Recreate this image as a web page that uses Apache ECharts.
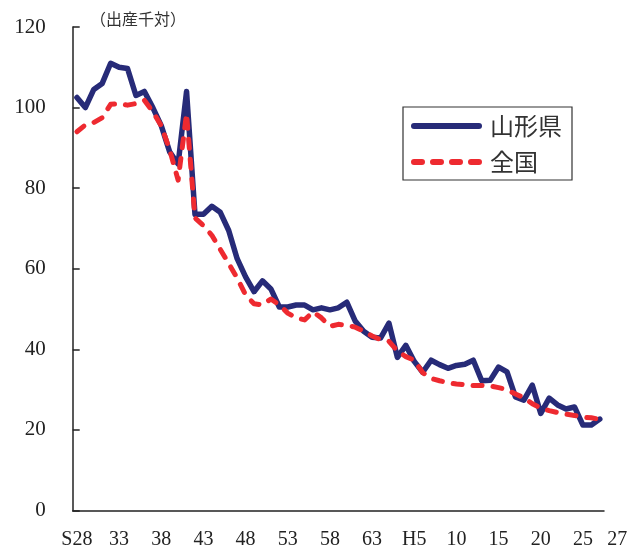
<!DOCTYPE html>
<html>
<head>
<meta charset="utf-8">
<script src="https://cdn.jsdelivr.net/npm/echarts@6/dist/echarts.min.js"></script>
<style>
html,body{margin:0;padding:0;background:#fff;}
#chart{width:643px;height:551px;}
</style>
</head>
<body>
<div id="chart"></div>
<script>
// Categories: S28 (1953) .. S63 (1988), H1 (1989) .. H27 (2015)
const showa = [];
for (let y = 28; y <= 63; y++) showa.push('S' + y);
const heisei = [];
for (let y = 1; y <= 27; y++) heisei.push('H' + y);
const categories = showa.concat(heisei);

// Indices that carry a tick label, and their text
const labelIndex = [0, 5, 10, 15, 20, 25, 30, 35, 40, 45, 50, 55, 60, 62];
const labelText  = ['S28','33','38','43','48','53','58','63','H5','10','15','20','25','27'];

const seriesNames = ['山形県', '全国'];

// 山形県 (Yamagata)
const yamagata = [
  102.5, 100, 104.5, 106, 111, 110, 109.7, 103, 104, 100,
  95.5, 89, 86, 104, 73.5, 73.5, 75.5, 74, 69.5, 62.5,
  58, 54.3, 57, 55, 50.5, 50.5, 51, 51, 49.8, 50.3,
  49.8, 50.3, 51.7, 47, 44.5, 43, 42.8, 46.5, 38, 41,
  37, 34.3, 37.3, 36.2, 35.3, 36, 36.3, 37.3, 32.2, 32.3,
  35.6, 34.4, 28.2, 27.4, 31.1, 24.1, 27.9, 26.2, 25.2, 25.7,
  21.2, 21.2, 22.7
];

// 全国 (national)
const zenkoku = [
  94, 95.7, 96.3, 97.5, 100.8, 101, 100.6, 101, 101.8, 99,
  95.5, 89.5, 82, 98.5, 72.6, 70.7, 68.3, 64.8, 61.3, 57.7,
  53.5, 51.3, 51, 52.5, 51, 49, 47.8, 47.3, 49.3, 47.8,
  45.7, 46.2, 46, 45.5, 44.5, 43.3, 42.4, 42, 39.6, 38.2,
  37.3, 34.2, 32.8, 32.2, 31.7, 31.4, 31.2, 31, 31, 30.9,
  30.5, 30, 28.9, 28, 26.5, 25.4, 24.8, 24.3, 23.9, 23.6,
  23.2, 23, 22.6
];

const yTicks = { min: 0, max: 120, interval: 20 };
const unitLabel = '（出産千対）';

const chart = echarts.init(document.getElementById('chart'), null, {renderer: 'canvas'});
const numFont = '"Liberation Serif", "DejaVu Serif", serif';
const cjkFont = '"Noto Sans CJK JP", "Noto Sans CJK SC", sans-serif';

// legend icons: solid rounded bar, and four rounded dashes
function cap(x0, x1) {
  return 'M' + (x0 + 3) + ',0 L' + (x1 - 3) + ',0 A3,3 0 0 1 ' + (x1 - 3) + ',6 L' + (x0 + 3) + ',6 A3,3 0 0 1 ' + (x0 + 3) + ',0 Z ';
}
const solidIcon = 'path://' + cap(0, 71);
const dashIcon = 'path://' + cap(0, 14) + cap(19, 33) + cap(38, 52) + cap(57, 71);

chart.setOption({
  animation: false,
  backgroundColor: '#ffffff',
  title: {
    text: unitLabel,
    left: 85, top: 6,
    textStyle: { fontFamily: cjkFont, fontSize: 16, fontWeight: 'normal', color: '#333' }
  },
  legend: {
    orient: 'vertical',
    left: 403, top: 107,
    padding: [5, 10, 4, 8],
    itemGap: 8,
    itemWidth: 71, itemHeight: 6,
    borderColor: '#333', borderWidth: 1.2,
    backgroundColor: '#fff',
    itemStyle: { borderWidth: 0 },
    textStyle: { fontFamily: cjkFont, fontSize: 24, color: '#333', lineHeight: 28, padding: [0, 0, 0, 3] },
    data: [
      { name: seriesNames[0], icon: solidIcon },
      { name: seriesNames[1], icon: dashIcon }
    ]
  },
  grid: { left: 72.7, right: 39, top: 27, bottom: 40.5, containLabel: false },
  xAxis: {
    type: 'category',
    data: categories,
    boundaryGap: true,
    axisLine: { lineStyle: { color: '#222', width: 1.5 } },
    axisTick: {
      inside: true, length: 7, alignWithLabel: false,
      interval: function (i) { return i % 5 === 0; },
      lineStyle: { color: '#222', width: 1.5 }
    },
    axisLabel: {
      interval: function (i) { return labelIndex.indexOf(i) >= 0; },
      margin: 19,
      fontFamily: numFont, fontSize: 20, color: '#222',
      formatter: function (v, i) {
        const k = labelIndex.indexOf(i);
        if (k < 0) return '';
        if (i === 62) return '{last|' + labelText[k] + '}';
        return labelText[k];
      },
      rich: { last: { fontFamily: numFont, fontSize: 20, color: '#222', padding: [0, 0, 0, 35] } }
    },
    splitLine: { show: false }
  },
  yAxis: {
    type: 'value',
    min: yTicks.min, max: yTicks.max, interval: yTicks.interval,
    axisLine: { show: true, lineStyle: { color: '#222', width: 1.5 } },
    axisTick: { show: true, inside: true, length: 7, lineStyle: { color: '#222', width: 1.5 } },
    axisLabel: { margin: 27, fontFamily: numFont, fontSize: 21, color: '#222' },
    splitLine: { show: false }
  },
  series: [
    {
      name: seriesNames[0], type: 'line', data: yamagata,
      symbol: 'none', z: 2,
      lineStyle: { color: '#272b78', width: 5.5, cap: 'round', join: 'round' },
      itemStyle: { color: '#272b78' }
    },
    {
      name: seriesNames[1], type: 'line', data: zenkoku,
      symbol: 'none', z: 3,
      lineStyle: { color: '#ee2a30', width: 5, type: [9, 11], cap: 'round', join: 'round' },
      itemStyle: { color: '#ee2a30' }
    }
  ]
});
</script>
</body>
</html>
